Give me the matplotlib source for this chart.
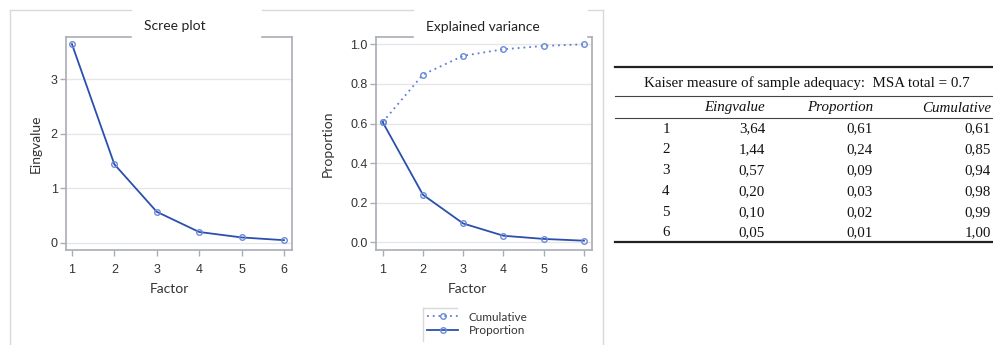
import matplotlib
matplotlib.use("Agg")
import matplotlib.pyplot as plt
from matplotlib.lines import Line2D

# ---------------- data ----------------
factors = [1, 2, 3, 4, 5, 6]
eigenvalues = [3.64, 1.44, 0.57, 0.20, 0.10, 0.05]
proportion = [0.607, 0.240, 0.095, 0.033, 0.017, 0.008]
cumulative = [0.607, 0.847, 0.942, 0.975, 0.992, 1.000]

table_title = "Kaiser measure of sample adequacy:  MSA total = 0.7"
table_header = ["", "Eingvalue", "Proportion", "Cumulative"]
table_rows = ["1", "2", "3", "4", "5", "6"]
table_eig = ["3,64", "1,44", "0,57", "0,20", "0,10", "0,05"]
table_prop = ["0,61", "0,24", "0,09", "0,03", "0,02", "0,01"]
table_cum = ["0,61", "0,85", "0,94", "0,98", "0,99", "1,00"]

# ---------------- layout helpers ----------------
W, H = 993, 345
def fx(px):
    return px / W
def fy(py):
    return 1 - py / H

fig = plt.figure(figsize=(W / 100, H / 100), dpi=100)
fig.patch.set_facecolor("white")

LINE_DARK = "#2b4fae"
LINE_LIGHT = "#5a7fd6"
MARK = "#6a8ad8"
FRAME = "#a9aeb5"
GRID = "#e6e6e6"
OUTER = "#d9d9d9"
TICKFONT = "Liberation Sans"
LABFONT = "Lato"

def style_axes(ax):
    for s in ["left", "bottom", "right"]:
        ax.spines[s].set_color(FRAME)
        ax.spines[s].set_linewidth(1.2)
    ax.spines["top"].set_visible(False)
    ax.tick_params(axis="both", direction="out", length=4, width=1, color=FRAME,
                   labelsize=9, labelcolor="#333333")
    ax.tick_params(axis="x", pad=6)
    ax.tick_params(axis="y", pad=2)
    for lab in ax.get_xticklabels() + ax.get_yticklabels():
        lab.set_fontfamily(TICKFONT)
    ax.yaxis.grid(True, color=GRID, linewidth=1)
    ax.set_axisbelow(True)
    ax.set_xticks(factors)

# ---------------- scree plot ----------------
ax1 = fig.add_axes([fx(66), fy(250), fx(292) - fx(66), fy(37) - fy(250)])
ax1.plot(factors, eigenvalues, color=LINE_DARK, lw=1.3, marker="o", ms=4,
         mfc="none", mec=MARK, mew=1)
ax1.set_xlim(0.86, 6.19)
ax1.set_ylim(-0.13, 3.77)
ax1.set_yticks([0, 1, 2, 3])
style_axes(ax1)
ax1.set_xlabel("Factor", fontfamily=LABFONT, fontsize=10, color="#333333")
ax1.xaxis.set_label_coords(0.456, -0.156)
ax1.set_ylabel("Eingvalue", fontfamily=LABFONT, fontsize=10, color="#333333")
ax1.yaxis.set_label_coords(-0.106, 0.5)

# ---------------- explained variance ----------------
ax2 = fig.add_axes([fx(376), fy(250), fx(592) - fx(376), fy(37) - fy(250)])
l_cum, = ax2.plot(factors, cumulative, color=LINE_LIGHT, lw=1.3, ls=(0, (1, 2.2)),
                  marker="o", ms=4, mfc="none", mec=MARK, mew=1, label="Cumulative")
l_prop, = ax2.plot(factors, proportion, color=LINE_DARK, lw=1.3, marker="o", ms=4,
                   mfc="none", mec=MARK, mew=1, label="Proportion")
ax2.set_xlim(0.834, 6.2)
ax2.set_ylim(-0.039, 1.037)
ax2.set_yticks([0.0, 0.2, 0.4, 0.6, 0.8, 1.0])
ax2.set_yticklabels(["0.0", "0.2", "0.4", "0.6", "0.8", "1.0"])
style_axes(ax2)
ax2.set_xlabel("Factor", fontfamily=LABFONT, fontsize=10, color="#333333")
ax2.xaxis.set_label_coords(0.424, -0.156)
ax2.set_ylabel("Proportion", fontfamily=LABFONT, fontsize=10, color="#333333")
ax2.yaxis.set_label_coords(-0.194, 0.5)

# axes top spines broken by the title boxes
def seg(x0, y0, x1, y1, color, lw):
    fig.add_artist(Line2D([fx(x0), fx(x1)], [fy(y0), fy(y1)], color=color, lw=lw,
                          transform=fig.transFigure))

seg(66, 37, 131, 37, FRAME, 1.2)
seg(262, 37, 292, 37, FRAME, 1.2)
seg(376, 37, 413, 37, FRAME, 1.2)
seg(588, 37, 592, 37, FRAME, 1.2)

# outer frame
seg(10, 10, 131, 10, OUTER, 1)
seg(262, 10, 413, 10, OUTER, 1)
seg(588, 10, 603, 10, OUTER, 1)
seg(10, 10, 10, 345, OUTER, 1)
seg(603, 10, 603, 345, OUTER, 1)

# titles
fig.text(fx(175), fy(26), "Scree plot", ha="center", va="center",
         fontfamily=LABFONT, fontsize=10, color="#222222")
fig.text(fx(483), fy(27), "Explained variance", ha="center", va="center",
         fontfamily=LABFONT, fontsize=10, color="#222222")

# legend
leg = fig.legend(handles=[l_cum, l_prop], loc="center left",
                 bbox_to_anchor=(fx(425), fy(324)), frameon=False,
                 prop={"family": LABFONT, "size": 8.5}, handlelength=2.6,
                 handletextpad=0.9, labelspacing=0.25, borderaxespad=0, borderpad=0.2)
for t in leg.get_texts():
    t.set_color("#333333")
seg(423, 308, 457, 308, OUTER, 1)
seg(423, 308, 423, 341, OUTER, 1)

# ---------------- table ----------------
SERIF = "Liberation Serif"
TS = 10.8
seg(615, 67, 992, 67, "#222222", 1.6)
seg(615, 96, 992, 96, "#444444", 0.8)
seg(615, 118, 992, 118, "#444444", 0.8)
seg(615, 242, 992, 242, "#222222", 1.6)

fig.text(fx(807), fy(83), table_title, ha="center", va="center",
         fontfamily=SERIF, fontsize=TS, color="#111111")

col_right = [None, 765, 873, 991]
for j in range(1, 4):
    fig.text(fx(col_right[j]), fy(108), table_header[j], ha="right", va="center",
             fontfamily=SERIF, fontsize=TS, style="italic", color="#111111")

row_y0, row_dy = 129, 20.8
for i in range(len(table_rows)):
    y = fy(row_y0 + i * row_dy)
    fig.text(fx(666), y, table_rows[i], ha="center", va="center",
             fontfamily=SERIF, fontsize=TS, color="#111111")
    fig.text(fx(765), y, table_eig[i], ha="right", va="center",
             fontfamily=SERIF, fontsize=TS, color="#111111")
    fig.text(fx(873), y, table_prop[i], ha="right", va="center",
             fontfamily=SERIF, fontsize=TS, color="#111111")
    fig.text(fx(991), y, table_cum[i], ha="right", va="center",
             fontfamily=SERIF, fontsize=TS, color="#111111")

fig.savefig("out.png", dpi=100, facecolor="white")
